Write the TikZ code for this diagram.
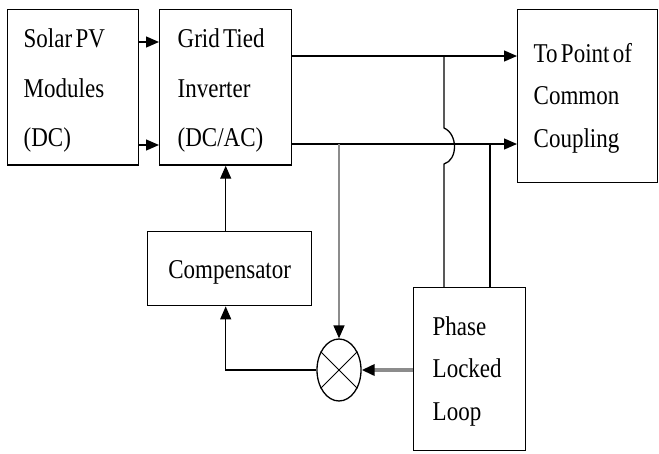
\documentclass[tikz,border=0pt]{standalone}
\usepackage{fontspec}
\setmainfont{Liberation Serif}
\usetikzlibrary{arrows.meta,shapes.geometric}
\newcommand\hoog[2][42]{\scalebox{1}[1.18]{\fontsize{23}{#1}\selectfont\begin{tabular}{@{}l@{}}#2\end{tabular}}}
\tikzset{
  blok/.style={draw, line width=1.4pt, anchor=north west, align=left},
  lijn/.style={line width=1.3pt},
  grijs/.style={draw=black!45, line width=1.5pt},
  pijl/.style={-{Triangle[length=13pt,width=11pt,color=black]}}
}
\begin{document}
\begin{tikzpicture}[x=1pt,y=-1pt]
    \useasboundingbox (0,0) rectangle (659,453);

    % Blokken
    \node[blok, minimum width=131pt, minimum height=155pt, inner xsep=16pt, text width=99pt] (pv) at (7,9) {\hoog{Solar PV\\Modules\\(DC)}};
    \node[blok, minimum width=132pt, minimum height=155pt, inner xsep=18pt, text width=96pt] (inv) at (159,9) {\hoog{Grid Tied\\Inverter\\(DC/AC)}};
    \node[blok, minimum width=140pt, minimum height=173pt, inner xsep=16pt, text width=108pt] (pcc) at (517,9) {\hoog[36]{To Point of\\Common\\Coupling}};
    \node[blok, minimum width=164pt, minimum height=74pt, align=center] (comp) at (147,231) {\hoog{Compensator}};
    \node[blok, minimum width=112pt, minimum height=163pt, inner xsep=19pt, text width=74pt] (pll) at (413,287) {\hoog[36]{Phase\\Locked\\Loop}};
    \node[draw, ellipse, lijn, minimum width=44pt, minimum height=62pt] (mult) at (339,370) {};
    \draw[line width=0.8pt] (mult.45) -- (mult.225) (mult.135) -- (mult.315);

    % Hulppunten
    \coordinate (t1) at (0,42);
    \coordinate (t2) at (0,145);
    \coordinate (j1) at (444,56);
    \coordinate (j2) at (490,144);
    \coordinate (j3) at (339,144);
    \coordinate (h1) at (444,128);
    \coordinate (h2) at (444,164);

    % Verbindingen
    \draw[lijn, pijl] (pv.east |- t1) -- (inv.west |- t1);
    \draw[lijn, pijl] (pv.east |- t2) -- (inv.west |- t2);
    \draw[lijn, pijl] (inv.east |- j1) -- (pcc.west |- j1);
    \draw[lijn, pijl] (inv.east |- j2) -- (pcc.west |- j2);
    \draw[lijn] (j1) -- (h1) .. controls (458,134) and (458,160) .. (h2) -- (pll.north -| h2);
    \draw[lijn] (j2) -- (pll.north -| j2);
    \draw[grijs, pijl] (j3) -- (mult.north);
    \draw[grijs, line width=3.5pt, pijl] (pll.west |- mult) -- (mult.east);
    \draw[lijn, pijl] (mult.west) -| (comp.south -| inv.south);
    \draw[lijn, pijl] (comp.north -| inv.south) -- (inv.south);
\end{tikzpicture}
\end{document}
